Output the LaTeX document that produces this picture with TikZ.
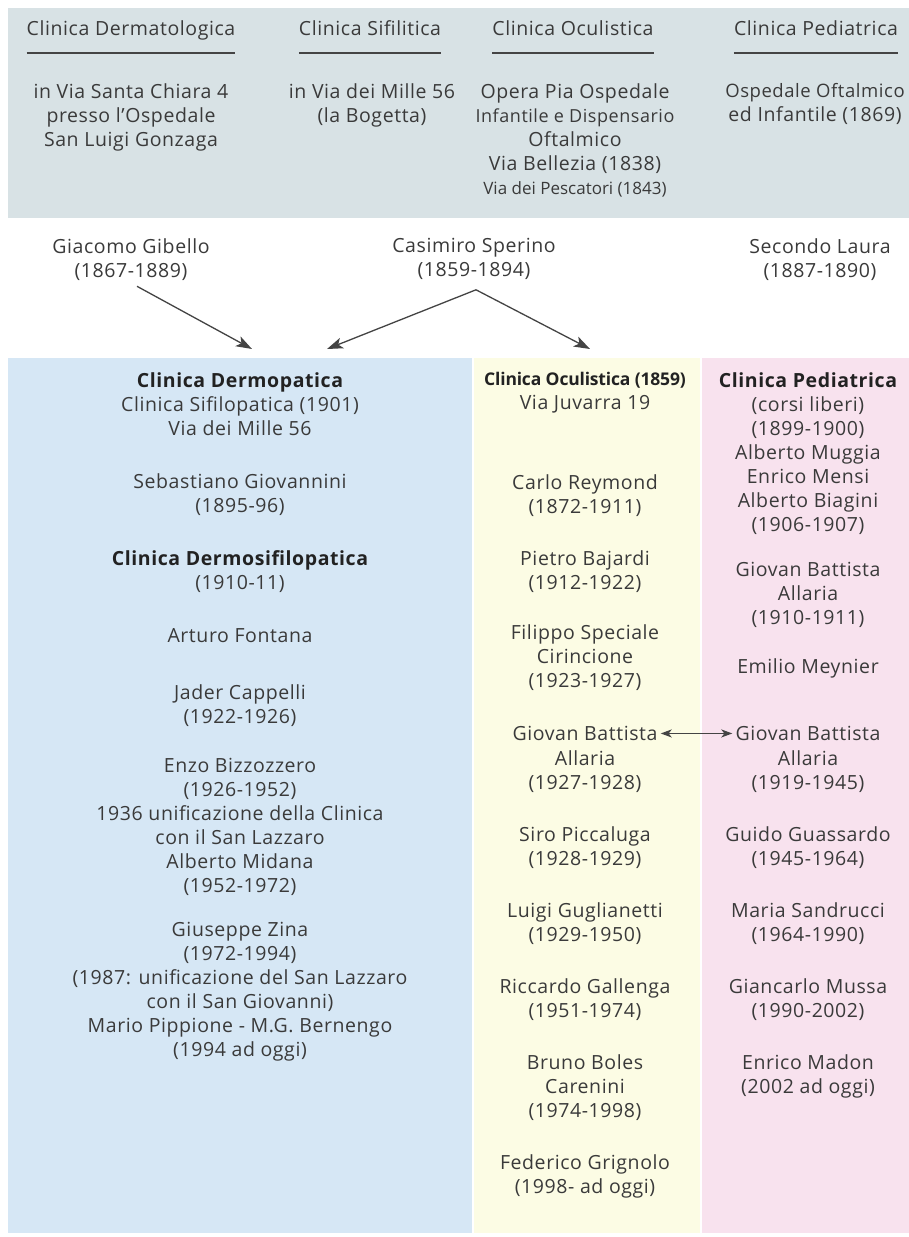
\documentclass[tikz,border=0pt]{standalone}
\usepackage{fontspec}
\setmainfont{Open Sans}[LetterSpace=3]
\usetikzlibrary{arrows.meta}
\definecolor{tc}{HTML}{3A3A3A}
\definecolor{hc}{HTML}{222222}
\definecolor{topbg}{HTML}{D8E2E5}
\definecolor{bluebg}{HTML}{D6E7F5}
\definecolor{yelbg}{HTML}{FCFCE4}
\definecolor{pinkbg}{HTML}{F8E2EE}
\definecolor{ac}{HTML}{444444}
\newcommand{\fsz}{\fontsize{19.5}{24}\selectfont}
\begin{document}
\begin{tikzpicture}[x=1pt,y=-1pt,
  txt/.style={font=\fsz, align=center, inner sep=0pt, anchor=north, yshift=10pt, text=tc},
  uline/.style={draw=ac, line width=2.2pt},
  arr/.style={draw=ac, line width=1.3pt, -{Stealth[length=16pt,width=11pt,inset=4pt]}},
  dbl/.style={draw=ac, line width=1.4pt, {Stealth[length=11pt,width=8pt,inset=3pt]}-{Stealth[length=11pt,width=8pt,inset=3pt]}}]
\useasboundingbox (0,0) rectangle (909,1237);
\fill[white] (0,0) rectangle (909,1237);
% panels
\fill[topbg] (8,8) rectangle (909,218);
\fill[bluebg] (8,358) rectangle (472,1233);
\fill[yelbg] (474,358) rectangle (700,1233);
\fill[pinkbg] (702,358) rectangle (909,1233);
% top headers
\node[txt] (h1) at (131,30) {Clinica Dermatologica};
\node[txt] (h2) at (370,30) {Clinica Sifilitica};
\node[txt] (h3) at (573,30) {Clinica Oculistica};
\node[txt] (h4) at (816,30) {Clinica Pediatrica};
\coordinate (uy) at (0,53);
\draw[uline] (h1.west |- uy) -- (h1.east |- uy);
\draw[uline] (h2.west |- uy) -- (h2.east |- uy);
\draw[uline] (h3.west |- uy) -- (h3.east |- uy);
\draw[uline] (h4.west |- uy) -- (h4.east |- uy);
\node[txt] (b1) at (131,93) {in Via Santa Chiara 4\\presso l’Ospedale\\San Luigi Gonzaga};
\node[txt] (b2) at (372,93) {in Via dei Mille 56\\(la Bogetta)};
\node[txt] (b3) at (575,93) {Opera Pia Ospedale\\{\fontsize{18}{24}\selectfont Infantile e Dispensario}\\Oftalmico\\Via Bellezia (1838)\\{\fontsize{17}{24}\selectfont\addfontfeatures{LetterSpace=0}Via dei Pescatori (1843)}};
\node[txt] (b4) at (815,93) {{\fontsize{18.5}{24}\selectfont Ospedale Oftalmico}\\ed Infantile (1869)};
% directors
\node[txt] (gib) at (131,248) {Giacomo Gibello\\(1867-1889)};
\node[txt] (spe) at (474,248) {Casimiro Sperino\\(1859-1894)};
\node[txt] (lau) at (820,248) {Secondo Laura\\(1887-1890)};
\coordinate (inDerm1) at (252,349);
\coordinate (inDerm2) at (327,349);
\coordinate (inOcul) at (590,349);
\draw[arr] ([xshift=6pt,yshift=-6pt]gib.south) -- (inDerm1);
\draw[arr] ([xshift=2pt,yshift=-10pt]spe.south) -- (inDerm2);
\draw[arr] ([xshift=2pt,yshift=-10pt]spe.south) -- (inOcul);
% blue column
\node[txt] (d1) at (240,382) {{\bfseries\color{hc}Clinica Dermopatica}\\Clinica Sifilopatica (1901)\\Via dei Mille 56};
\node[txt] (d2) at (240,483) {Sebastiano Giovannini\\(1895-96)};
\node[txt] (d3) at (240,560) {{\bfseries\color{hc}Clinica Dermosifilopatica}\\(1910-11)};
\node[txt] (d4) at (240,638) {Arturo Fontana};
\node[txt] (d5) at (240,694) {Jader Cappelli\\(1922-1926)};
\node[txt] (d6) at (240,768) {Enzo Bizzozzero\\(1926-1952)\\1936 unificazione della Clinica\\con il San Lazzaro\\Alberto Midana\\(1952-1972)};
\node[txt] (d7) at (240,932) {Giuseppe Zina\\(1972-1994)\\(1987: unificazione del San Lazzaro\\con il San Giovanni)\\Mario Pippione - M.G. Bernengo\\(1994 ad oggi)};
% yellow column
\node[txt] (o1) at (585,382) {{\fontsize{17.5}{24}\selectfont\bfseries\addfontfeatures{LetterSpace=-1}\color{hc}Clinica Oculistica (1859)}\\Via Juvarra 19};
\node[txt] (o2) at (585,484) {Carlo Reymond\\(1872-1911)};
\node[txt] (o3) at (585,560) {Pietro Bajardi\\(1912-1922)};
\node[txt] (o4) at (585,634) {Filippo Speciale\\Cirincione\\(1923-1927)};
\node[txt] (gbY) at (585,736) {Giovan Battista};
\node[txt] (o5) at (585,760) {Allaria\\(1927-1928)};
\node[txt] (o6) at (585,836) {Siro Piccaluga\\(1928-1929)};
\node[txt] (o7) at (585,912) {Luigi Guglianetti\\(1929-1950)};
\node[txt] (o8) at (585,988) {Riccardo Gallenga\\(1951-1974)};
\node[txt] (o9) at (585,1064) {Bruno Boles\\Carenini\\(1974-1998)};
\node[txt] (o10) at (585,1164) {Federico Grignolo\\(1998- ad oggi)};
% pink column
\node[txt] (p1) at (808,382) {{\bfseries\color{hc}Clinica Pediatrica}\\(corsi liberi)\\(1899-1900)\\Alberto Muggia\\Enrico Mensi\\Alberto Biagini\\(1906-1907)};
\node[txt] (p2) at (808,572) {Giovan Battista\\Allaria\\(1910-1911)};
\node[txt] (p3) at (808,668) {Emilio Meynier};
\node[txt] (gbP) at (808,736) {Giovan Battista};
\node[txt] (p4) at (808,760) {Allaria\\(1919-1945)};
\node[txt] (p5) at (808,836) {Guido Guassardo\\(1945-1964)};
\node[txt] (p6) at (808,912) {Maria Sandrucci\\(1964-1990)};
\node[txt] (p7) at (808,988) {Giancarlo Mussa\\(1990-2002)};
\node[txt] (p8) at (808,1064) {Enrico Madon\\(2002 ad oggi)};
\draw[dbl] ([xshift=3pt]gbY.east) -- ([xshift=-3pt]gbP.west);
\end{tikzpicture}
\end{document}
